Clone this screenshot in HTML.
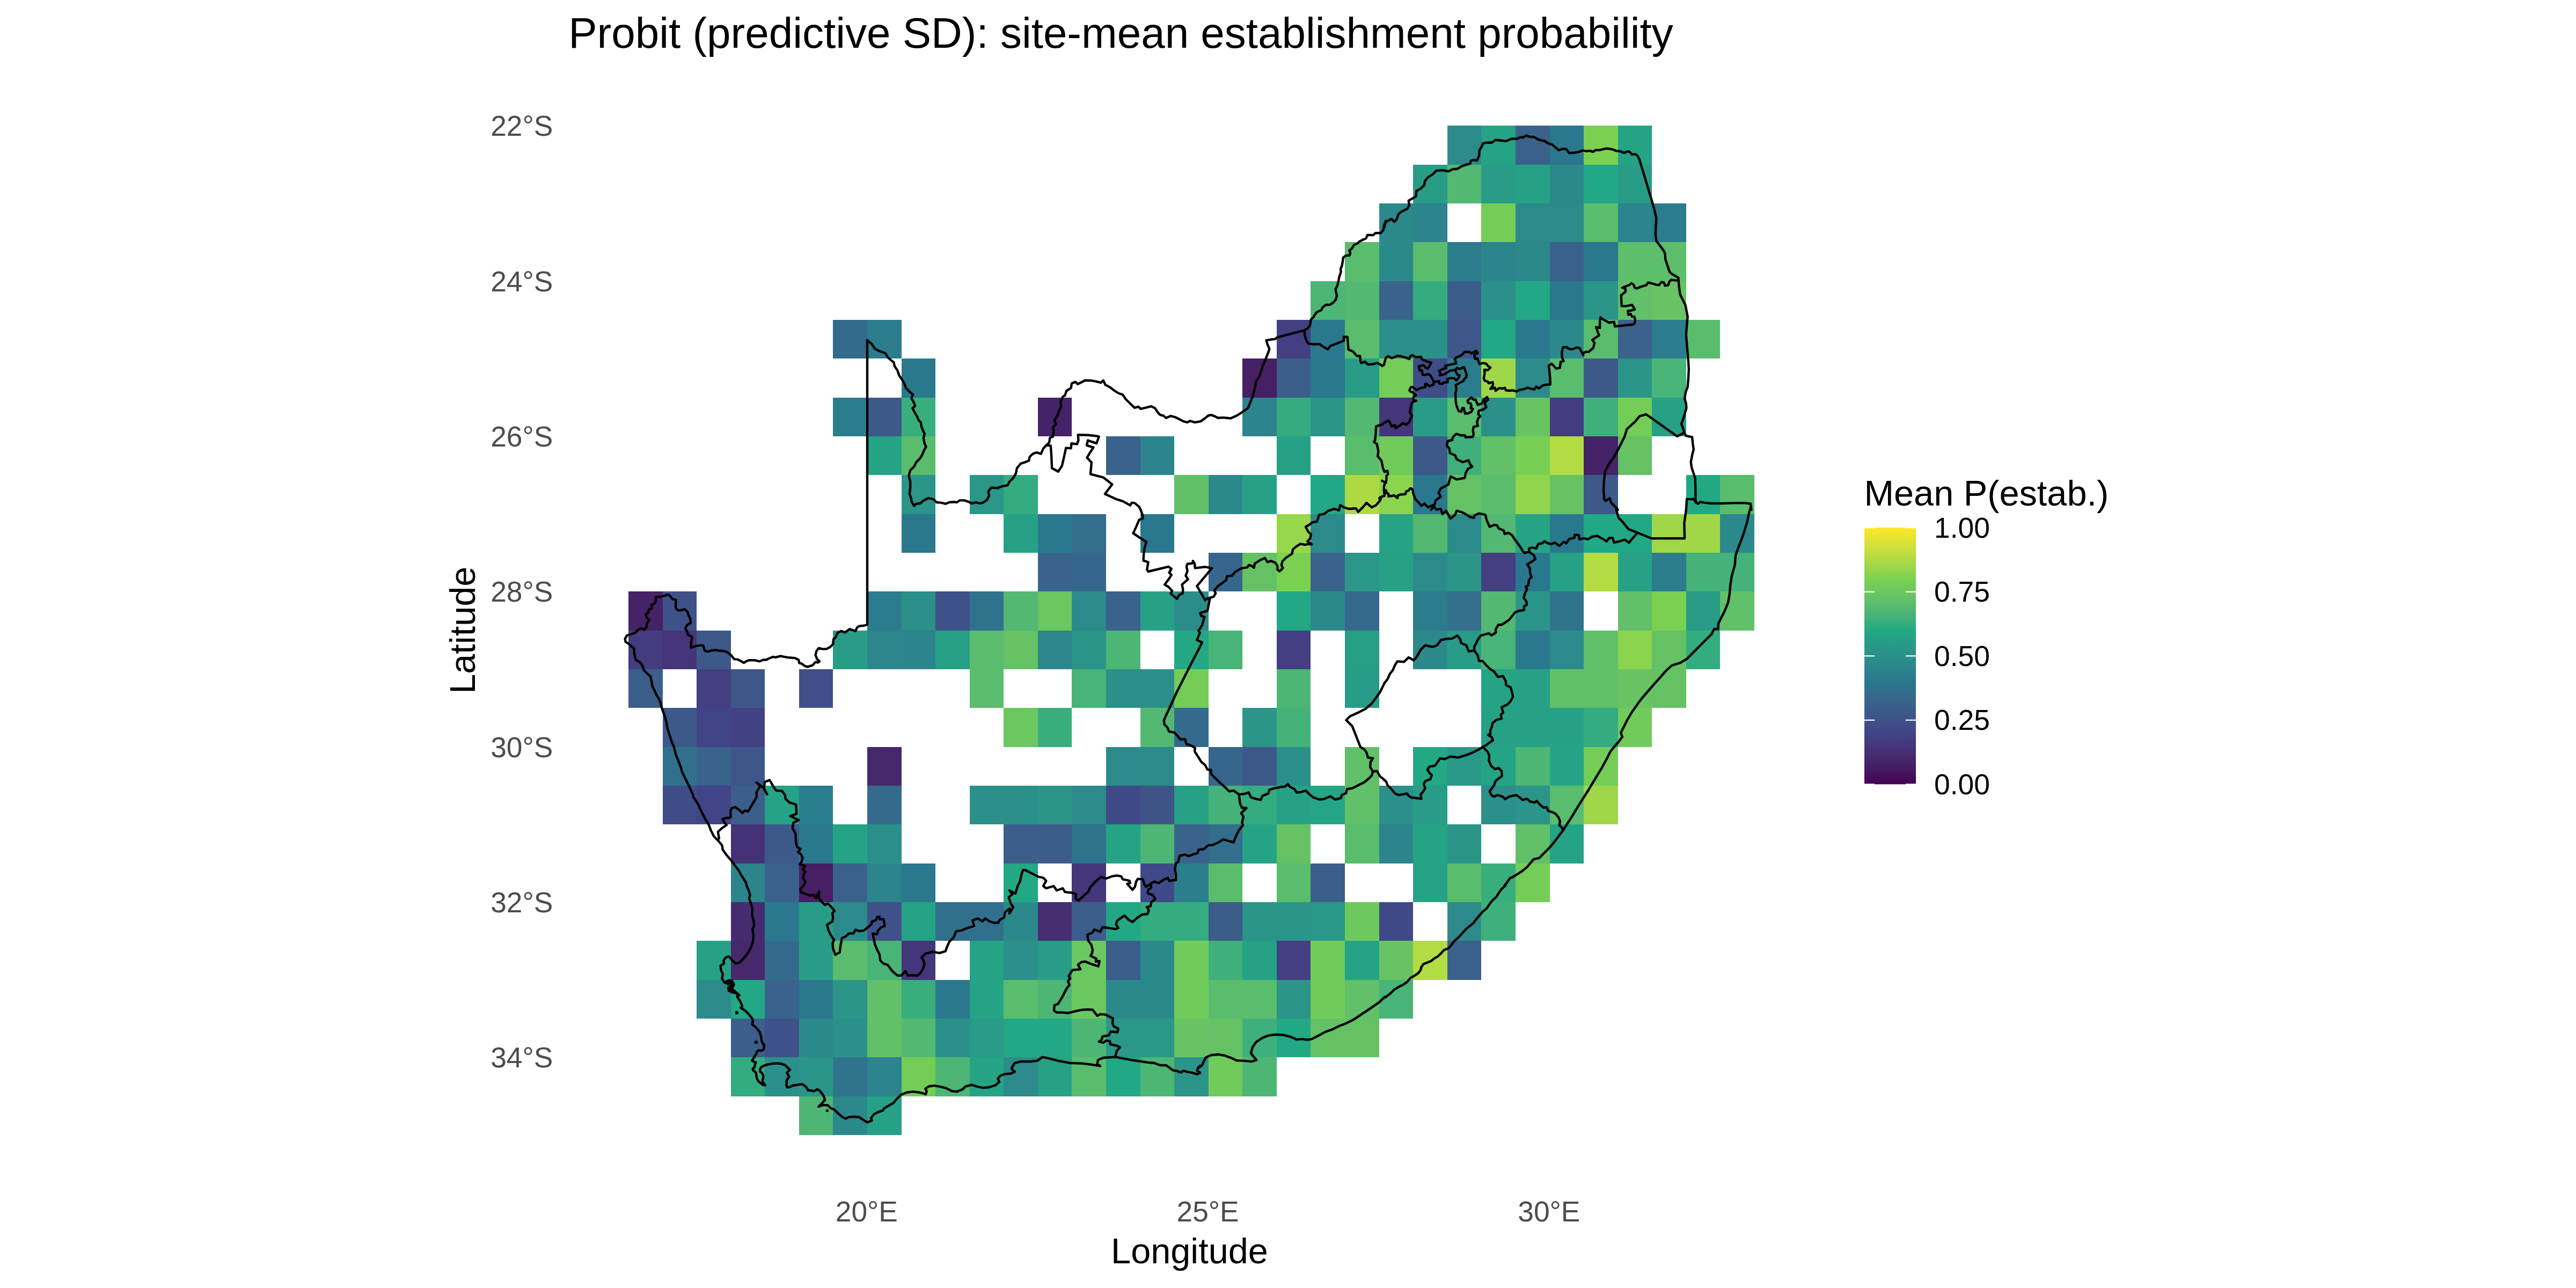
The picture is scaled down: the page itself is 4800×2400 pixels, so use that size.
<!DOCTYPE html>
<html lang="en"><head><meta charset="utf-8"><title>Probit (predictive SD): site-mean establishment probability</title>
<style>html,body{margin:0;padding:0;background:#fff}svg{display:block}text{font-family:"Liberation Sans",Arial,Helvetica,sans-serif}</style></head><body>
<svg width="4800" height="2400" viewBox="0 0 4800 2400">
<rect width="4800" height="2400" fill="#fff"/>
<g shape-rendering="crispEdges">
<rect x="2697" y="234" width="63" height="73" fill="#2c8b8a"/>
<rect x="2760" y="234" width="64" height="73" fill="#25a385"/>
<rect x="2824" y="234" width="64" height="73" fill="#3a618b"/>
<rect x="2888" y="234" width="63" height="73" fill="#2a788e"/>
<rect x="2951" y="234" width="64" height="73" fill="#7ad151"/>
<rect x="3015" y="234" width="63" height="73" fill="#25a385"/>
<rect x="2633" y="307" width="64" height="72" fill="#289c87"/>
<rect x="2697" y="307" width="63" height="72" fill="#52b872"/>
<rect x="2760" y="307" width="64" height="72" fill="#289c87"/>
<rect x="2824" y="307" width="64" height="72" fill="#26a186"/>
<rect x="2888" y="307" width="63" height="72" fill="#2c898b"/>
<rect x="2951" y="307" width="64" height="72" fill="#22a884"/>
<rect x="3015" y="307" width="63" height="72" fill="#289c87"/>
<rect x="2570" y="379" width="63" height="72" fill="#2c898b"/>
<rect x="2633" y="379" width="64" height="72" fill="#2c848c"/>
<rect x="2760" y="379" width="64" height="72" fill="#74cd57"/>
<rect x="2824" y="379" width="64" height="72" fill="#2c8b8a"/>
<rect x="2888" y="379" width="63" height="72" fill="#2c8b8a"/>
<rect x="2951" y="379" width="64" height="72" fill="#5abc6d"/>
<rect x="3015" y="379" width="63" height="72" fill="#2c848c"/>
<rect x="3078" y="379" width="64" height="72" fill="#2b7d8d"/>
<rect x="2506" y="451" width="64" height="73" fill="#5abc6d"/>
<rect x="2570" y="451" width="63" height="73" fill="#2c898b"/>
<rect x="2633" y="451" width="64" height="73" fill="#5abc6d"/>
<rect x="2697" y="451" width="63" height="73" fill="#2b7d8d"/>
<rect x="2760" y="451" width="64" height="73" fill="#2c848c"/>
<rect x="2824" y="451" width="64" height="73" fill="#2c898b"/>
<rect x="2888" y="451" width="63" height="73" fill="#3a618b"/>
<rect x="2951" y="451" width="64" height="73" fill="#2a788e"/>
<rect x="3015" y="451" width="63" height="73" fill="#5dbe6b"/>
<rect x="3078" y="451" width="64" height="73" fill="#5dbe6b"/>
<rect x="2442" y="524" width="64" height="72" fill="#4db674"/>
<rect x="2506" y="524" width="64" height="72" fill="#52b872"/>
<rect x="2570" y="524" width="63" height="72" fill="#39638b"/>
<rect x="2633" y="524" width="64" height="72" fill="#33ac80"/>
<rect x="2697" y="524" width="63" height="72" fill="#3c5c8a"/>
<rect x="2760" y="524" width="64" height="72" fill="#2b9089"/>
<rect x="2824" y="524" width="64" height="72" fill="#22a884"/>
<rect x="2888" y="524" width="63" height="72" fill="#2a788e"/>
<rect x="2951" y="524" width="64" height="72" fill="#2a9588"/>
<rect x="3015" y="524" width="63" height="72" fill="#61c068"/>
<rect x="3078" y="524" width="64" height="72" fill="#68c463"/>
<rect x="1552" y="596" width="64" height="72" fill="#346b8c"/>
<rect x="1616" y="596" width="64" height="72" fill="#2b7d8d"/>
<rect x="2379" y="596" width="63" height="72" fill="#433f82"/>
<rect x="2442" y="596" width="64" height="72" fill="#2a788e"/>
<rect x="2506" y="596" width="64" height="72" fill="#5abc6d"/>
<rect x="2570" y="596" width="63" height="72" fill="#2b9089"/>
<rect x="2633" y="596" width="64" height="72" fill="#2b9089"/>
<rect x="2697" y="596" width="63" height="72" fill="#3d578a"/>
<rect x="2760" y="596" width="64" height="72" fill="#22a884"/>
<rect x="2824" y="596" width="64" height="72" fill="#2a788e"/>
<rect x="2888" y="596" width="63" height="72" fill="#2c898b"/>
<rect x="2951" y="596" width="64" height="72" fill="#5abc6d"/>
<rect x="3015" y="596" width="63" height="72" fill="#39638b"/>
<rect x="3078" y="596" width="64" height="72" fill="#2b7d8d"/>
<rect x="3142" y="596" width="63" height="72" fill="#5abc6d"/>
<rect x="1680" y="668" width="63" height="73" fill="#2a788e"/>
<rect x="2315" y="668" width="64" height="73" fill="#461f65"/>
<rect x="2379" y="668" width="63" height="73" fill="#3b5e8b"/>
<rect x="2442" y="668" width="64" height="73" fill="#2a788e"/>
<rect x="2506" y="668" width="64" height="73" fill="#289c87"/>
<rect x="2570" y="668" width="63" height="73" fill="#74cd57"/>
<rect x="2633" y="668" width="64" height="73" fill="#404c88"/>
<rect x="2697" y="668" width="63" height="73" fill="#2b7d8d"/>
<rect x="2760" y="668" width="64" height="73" fill="#9fd749"/>
<rect x="2824" y="668" width="64" height="73" fill="#2c8b8a"/>
<rect x="2888" y="668" width="63" height="73" fill="#5abc6d"/>
<rect x="2951" y="668" width="64" height="73" fill="#3d598a"/>
<rect x="3015" y="668" width="63" height="73" fill="#2a9588"/>
<rect x="3078" y="668" width="64" height="73" fill="#49b477"/>
<rect x="1552" y="741" width="64" height="72" fill="#2b7d8d"/>
<rect x="1616" y="741" width="64" height="72" fill="#3d598a"/>
<rect x="1680" y="741" width="63" height="72" fill="#39ae7d"/>
<rect x="1934" y="741" width="63" height="72" fill="#462268"/>
<rect x="2315" y="741" width="64" height="72" fill="#2c848c"/>
<rect x="2379" y="741" width="63" height="72" fill="#33ac80"/>
<rect x="2442" y="741" width="64" height="72" fill="#2a9588"/>
<rect x="2506" y="741" width="64" height="72" fill="#52b872"/>
<rect x="2570" y="741" width="63" height="72" fill="#44367a"/>
<rect x="2633" y="741" width="64" height="72" fill="#289c87"/>
<rect x="2697" y="741" width="63" height="72" fill="#5abc6d"/>
<rect x="2760" y="741" width="64" height="72" fill="#2b9089"/>
<rect x="2824" y="741" width="64" height="72" fill="#68c463"/>
<rect x="2888" y="741" width="63" height="72" fill="#433c7f"/>
<rect x="2951" y="741" width="64" height="72" fill="#3fb07b"/>
<rect x="3015" y="741" width="63" height="72" fill="#74cd57"/>
<rect x="3078" y="741" width="64" height="72" fill="#26a186"/>
<rect x="1616" y="813" width="64" height="72" fill="#25a385"/>
<rect x="1680" y="813" width="63" height="72" fill="#5abc6d"/>
<rect x="2061" y="813" width="64" height="72" fill="#39638b"/>
<rect x="2125" y="813" width="63" height="72" fill="#2c848c"/>
<rect x="2379" y="813" width="63" height="72" fill="#26a186"/>
<rect x="2506" y="813" width="64" height="72" fill="#5abc6d"/>
<rect x="2570" y="813" width="63" height="72" fill="#71cb5a"/>
<rect x="2633" y="813" width="64" height="72" fill="#3d598a"/>
<rect x="2697" y="813" width="63" height="72" fill="#3fb07b"/>
<rect x="2760" y="813" width="64" height="72" fill="#61c068"/>
<rect x="2824" y="813" width="64" height="72" fill="#77cf54"/>
<rect x="2888" y="813" width="63" height="72" fill="#b3db44"/>
<rect x="2951" y="813" width="64" height="72" fill="#462268"/>
<rect x="3015" y="813" width="63" height="72" fill="#64c265"/>
<rect x="1680" y="885" width="63" height="73" fill="#2a9588"/>
<rect x="1807" y="885" width="63" height="73" fill="#2a9788"/>
<rect x="1870" y="885" width="64" height="73" fill="#33ac80"/>
<rect x="2188" y="885" width="64" height="73" fill="#61c068"/>
<rect x="2252" y="885" width="63" height="73" fill="#2c898b"/>
<rect x="2315" y="885" width="64" height="73" fill="#26a186"/>
<rect x="2442" y="885" width="64" height="73" fill="#22a884"/>
<rect x="2506" y="885" width="64" height="73" fill="#add945"/>
<rect x="2570" y="885" width="63" height="73" fill="#8ad44e"/>
<rect x="2633" y="885" width="64" height="73" fill="#2a788e"/>
<rect x="2697" y="885" width="63" height="73" fill="#64c265"/>
<rect x="2760" y="885" width="64" height="73" fill="#5abc6d"/>
<rect x="2824" y="885" width="64" height="73" fill="#91d54c"/>
<rect x="2888" y="885" width="63" height="73" fill="#64c265"/>
<rect x="2951" y="885" width="64" height="73" fill="#3d598a"/>
<rect x="3142" y="885" width="63" height="73" fill="#22a884"/>
<rect x="3205" y="885" width="64" height="73" fill="#5abc6d"/>
<rect x="1680" y="958" width="63" height="72" fill="#2a788e"/>
<rect x="1870" y="958" width="64" height="72" fill="#26a186"/>
<rect x="1934" y="958" width="63" height="72" fill="#2a788e"/>
<rect x="1997" y="958" width="64" height="72" fill="#336e8d"/>
<rect x="2125" y="958" width="63" height="72" fill="#2a788e"/>
<rect x="2379" y="958" width="63" height="72" fill="#98d64b"/>
<rect x="2442" y="958" width="64" height="72" fill="#2c8b8a"/>
<rect x="2570" y="958" width="63" height="72" fill="#25a385"/>
<rect x="2633" y="958" width="64" height="72" fill="#52b872"/>
<rect x="2697" y="958" width="63" height="72" fill="#2c8b8a"/>
<rect x="2760" y="958" width="64" height="72" fill="#52b872"/>
<rect x="2824" y="958" width="64" height="72" fill="#25a385"/>
<rect x="2888" y="958" width="63" height="72" fill="#2a788e"/>
<rect x="2951" y="958" width="64" height="72" fill="#22a884"/>
<rect x="3015" y="958" width="63" height="72" fill="#22a884"/>
<rect x="3078" y="958" width="64" height="72" fill="#9fd749"/>
<rect x="3142" y="958" width="63" height="72" fill="#9fd749"/>
<rect x="3205" y="958" width="64" height="72" fill="#2c898b"/>
<rect x="1934" y="1030" width="63" height="72" fill="#39638b"/>
<rect x="1997" y="1030" width="64" height="72" fill="#37668c"/>
<rect x="2252" y="1030" width="63" height="72" fill="#37668c"/>
<rect x="2315" y="1030" width="64" height="72" fill="#64c265"/>
<rect x="2379" y="1030" width="63" height="72" fill="#7ad151"/>
<rect x="2442" y="1030" width="64" height="72" fill="#39638b"/>
<rect x="2506" y="1030" width="64" height="72" fill="#2a9788"/>
<rect x="2570" y="1030" width="63" height="72" fill="#26a186"/>
<rect x="2633" y="1030" width="64" height="72" fill="#2c8b8a"/>
<rect x="2697" y="1030" width="63" height="72" fill="#2a9588"/>
<rect x="2760" y="1030" width="64" height="72" fill="#433f82"/>
<rect x="2824" y="1030" width="64" height="72" fill="#2a788e"/>
<rect x="2888" y="1030" width="63" height="72" fill="#26a186"/>
<rect x="2951" y="1030" width="64" height="72" fill="#b3db44"/>
<rect x="3015" y="1030" width="63" height="72" fill="#26a186"/>
<rect x="3078" y="1030" width="64" height="72" fill="#2b7d8d"/>
<rect x="3142" y="1030" width="63" height="72" fill="#44b279"/>
<rect x="3205" y="1030" width="64" height="72" fill="#44b279"/>
<rect x="1171" y="1102" width="64" height="73" fill="#462268"/>
<rect x="1235" y="1102" width="63" height="73" fill="#3f5189"/>
<rect x="1616" y="1102" width="64" height="73" fill="#2b7d8d"/>
<rect x="1680" y="1102" width="63" height="73" fill="#2b9089"/>
<rect x="1743" y="1102" width="64" height="73" fill="#3f5189"/>
<rect x="1807" y="1102" width="63" height="73" fill="#2f738d"/>
<rect x="1870" y="1102" width="64" height="73" fill="#52b872"/>
<rect x="1934" y="1102" width="63" height="73" fill="#6bc760"/>
<rect x="1997" y="1102" width="64" height="73" fill="#2c8b8a"/>
<rect x="2061" y="1102" width="64" height="73" fill="#39638b"/>
<rect x="2125" y="1102" width="63" height="73" fill="#26a186"/>
<rect x="2188" y="1102" width="64" height="73" fill="#2b8d8a"/>
<rect x="2379" y="1102" width="63" height="73" fill="#22a884"/>
<rect x="2442" y="1102" width="64" height="73" fill="#2c898b"/>
<rect x="2506" y="1102" width="64" height="73" fill="#346b8c"/>
<rect x="2633" y="1102" width="64" height="73" fill="#2b7d8d"/>
<rect x="2697" y="1102" width="63" height="73" fill="#336e8d"/>
<rect x="2760" y="1102" width="64" height="73" fill="#52b872"/>
<rect x="2824" y="1102" width="64" height="73" fill="#2a9588"/>
<rect x="2888" y="1102" width="63" height="73" fill="#2f738d"/>
<rect x="3015" y="1102" width="63" height="73" fill="#61c068"/>
<rect x="3078" y="1102" width="64" height="73" fill="#7ad151"/>
<rect x="3142" y="1102" width="63" height="73" fill="#289c87"/>
<rect x="3205" y="1102" width="64" height="73" fill="#61c068"/>
<rect x="1171" y="1175" width="64" height="72" fill="#433c7f"/>
<rect x="1235" y="1175" width="63" height="72" fill="#453477"/>
<rect x="1298" y="1175" width="64" height="72" fill="#3d598a"/>
<rect x="1552" y="1175" width="64" height="72" fill="#289c87"/>
<rect x="1616" y="1175" width="64" height="72" fill="#2c868b"/>
<rect x="1680" y="1175" width="63" height="72" fill="#2c848c"/>
<rect x="1743" y="1175" width="64" height="72" fill="#26a186"/>
<rect x="1807" y="1175" width="63" height="72" fill="#5abc6d"/>
<rect x="1870" y="1175" width="64" height="72" fill="#64c265"/>
<rect x="1934" y="1175" width="63" height="72" fill="#2c868b"/>
<rect x="1997" y="1175" width="64" height="72" fill="#2a9588"/>
<rect x="2061" y="1175" width="64" height="72" fill="#4db674"/>
<rect x="2188" y="1175" width="64" height="72" fill="#22a884"/>
<rect x="2252" y="1175" width="63" height="72" fill="#49b477"/>
<rect x="2379" y="1175" width="63" height="72" fill="#433f82"/>
<rect x="2506" y="1175" width="64" height="72" fill="#279e86"/>
<rect x="2633" y="1175" width="64" height="72" fill="#2c898b"/>
<rect x="2697" y="1175" width="63" height="72" fill="#289c87"/>
<rect x="2760" y="1175" width="64" height="72" fill="#49b477"/>
<rect x="2824" y="1175" width="64" height="72" fill="#2a788e"/>
<rect x="2888" y="1175" width="63" height="72" fill="#2c8b8a"/>
<rect x="2951" y="1175" width="64" height="72" fill="#61c068"/>
<rect x="3015" y="1175" width="63" height="72" fill="#8ad44e"/>
<rect x="3078" y="1175" width="64" height="72" fill="#64c265"/>
<rect x="3142" y="1175" width="63" height="72" fill="#33ac80"/>
<rect x="1171" y="1247" width="64" height="72" fill="#3b5e8b"/>
<rect x="1298" y="1247" width="64" height="72" fill="#433f82"/>
<rect x="1362" y="1247" width="63" height="72" fill="#3d578a"/>
<rect x="1489" y="1247" width="63" height="72" fill="#3f4f89"/>
<rect x="1807" y="1247" width="63" height="72" fill="#5abc6d"/>
<rect x="1997" y="1247" width="64" height="72" fill="#49b477"/>
<rect x="2061" y="1247" width="64" height="72" fill="#2b9089"/>
<rect x="2125" y="1247" width="63" height="72" fill="#2b9089"/>
<rect x="2188" y="1247" width="64" height="72" fill="#74cd57"/>
<rect x="2379" y="1247" width="63" height="72" fill="#4db674"/>
<rect x="2506" y="1247" width="64" height="72" fill="#289c87"/>
<rect x="2760" y="1247" width="64" height="72" fill="#25a385"/>
<rect x="2824" y="1247" width="64" height="72" fill="#26a186"/>
<rect x="2888" y="1247" width="63" height="72" fill="#61c068"/>
<rect x="2951" y="1247" width="64" height="72" fill="#61c068"/>
<rect x="3015" y="1247" width="63" height="72" fill="#68c463"/>
<rect x="3078" y="1247" width="64" height="72" fill="#64c265"/>
<rect x="1235" y="1319" width="63" height="73" fill="#3d598a"/>
<rect x="1298" y="1319" width="64" height="73" fill="#414487"/>
<rect x="1362" y="1319" width="63" height="73" fill="#424184"/>
<rect x="1870" y="1319" width="64" height="73" fill="#6bc760"/>
<rect x="1934" y="1319" width="63" height="73" fill="#39ae7d"/>
<rect x="2125" y="1319" width="63" height="73" fill="#52b872"/>
<rect x="2188" y="1319" width="64" height="73" fill="#346b8c"/>
<rect x="2315" y="1319" width="64" height="73" fill="#2a9588"/>
<rect x="2379" y="1319" width="63" height="73" fill="#44b279"/>
<rect x="2760" y="1319" width="64" height="73" fill="#26a186"/>
<rect x="2824" y="1319" width="64" height="73" fill="#26a186"/>
<rect x="2888" y="1319" width="63" height="73" fill="#26a186"/>
<rect x="2951" y="1319" width="64" height="73" fill="#33ac80"/>
<rect x="3015" y="1319" width="63" height="73" fill="#71cb5a"/>
<rect x="1235" y="1392" width="63" height="72" fill="#31708d"/>
<rect x="1298" y="1392" width="64" height="72" fill="#39638b"/>
<rect x="1362" y="1392" width="63" height="72" fill="#3d578a"/>
<rect x="1616" y="1392" width="64" height="72" fill="#46286d"/>
<rect x="2061" y="1392" width="64" height="72" fill="#2c8b8a"/>
<rect x="2125" y="1392" width="63" height="72" fill="#2c8b8a"/>
<rect x="2252" y="1392" width="63" height="72" fill="#37668c"/>
<rect x="2315" y="1392" width="64" height="72" fill="#3d598a"/>
<rect x="2379" y="1392" width="63" height="72" fill="#2b9089"/>
<rect x="2506" y="1392" width="64" height="72" fill="#61c068"/>
<rect x="2633" y="1392" width="64" height="72" fill="#22a884"/>
<rect x="2697" y="1392" width="63" height="72" fill="#2a9788"/>
<rect x="2760" y="1392" width="64" height="72" fill="#25a385"/>
<rect x="2824" y="1392" width="64" height="72" fill="#4db674"/>
<rect x="2888" y="1392" width="63" height="72" fill="#25a385"/>
<rect x="2951" y="1392" width="64" height="72" fill="#74cd57"/>
<rect x="1235" y="1464" width="63" height="72" fill="#404c88"/>
<rect x="1298" y="1464" width="64" height="72" fill="#414487"/>
<rect x="1362" y="1464" width="63" height="72" fill="#3b5e8b"/>
<rect x="1425" y="1464" width="64" height="72" fill="#25a385"/>
<rect x="1489" y="1464" width="63" height="72" fill="#2b7d8d"/>
<rect x="1616" y="1464" width="64" height="72" fill="#346b8c"/>
<rect x="1807" y="1464" width="63" height="72" fill="#2b9089"/>
<rect x="1870" y="1464" width="64" height="72" fill="#2b9089"/>
<rect x="1934" y="1464" width="63" height="72" fill="#2a9588"/>
<rect x="1997" y="1464" width="64" height="72" fill="#2c8b8a"/>
<rect x="2061" y="1464" width="64" height="72" fill="#404988"/>
<rect x="2125" y="1464" width="63" height="72" fill="#3e5489"/>
<rect x="2188" y="1464" width="64" height="72" fill="#26a186"/>
<rect x="2252" y="1464" width="63" height="72" fill="#44b279"/>
<rect x="2315" y="1464" width="64" height="72" fill="#33ac80"/>
<rect x="2379" y="1464" width="63" height="72" fill="#26a186"/>
<rect x="2442" y="1464" width="64" height="72" fill="#24a685"/>
<rect x="2506" y="1464" width="64" height="72" fill="#61c068"/>
<rect x="2570" y="1464" width="63" height="72" fill="#2b9089"/>
<rect x="2633" y="1464" width="64" height="72" fill="#289c87"/>
<rect x="2760" y="1464" width="64" height="72" fill="#2b9089"/>
<rect x="2824" y="1464" width="64" height="72" fill="#2a9588"/>
<rect x="2888" y="1464" width="63" height="72" fill="#5abc6d"/>
<rect x="2951" y="1464" width="64" height="72" fill="#9fd749"/>
<rect x="1362" y="1536" width="63" height="73" fill="#453175"/>
<rect x="1425" y="1536" width="64" height="73" fill="#3d598a"/>
<rect x="1489" y="1536" width="63" height="73" fill="#2a788e"/>
<rect x="1552" y="1536" width="64" height="73" fill="#25a385"/>
<rect x="1616" y="1536" width="64" height="73" fill="#2b9089"/>
<rect x="1870" y="1536" width="64" height="73" fill="#3b5e8b"/>
<rect x="1934" y="1536" width="63" height="73" fill="#3c5c8a"/>
<rect x="1997" y="1536" width="64" height="73" fill="#2f738d"/>
<rect x="2061" y="1536" width="64" height="73" fill="#25a385"/>
<rect x="2125" y="1536" width="63" height="73" fill="#4db674"/>
<rect x="2188" y="1536" width="64" height="73" fill="#39638b"/>
<rect x="2252" y="1536" width="63" height="73" fill="#336e8d"/>
<rect x="2315" y="1536" width="64" height="73" fill="#25a385"/>
<rect x="2379" y="1536" width="63" height="73" fill="#64c265"/>
<rect x="2506" y="1536" width="64" height="73" fill="#5abc6d"/>
<rect x="2570" y="1536" width="63" height="73" fill="#2c848c"/>
<rect x="2633" y="1536" width="64" height="73" fill="#25a385"/>
<rect x="2697" y="1536" width="63" height="73" fill="#2a9588"/>
<rect x="2824" y="1536" width="64" height="73" fill="#61c068"/>
<rect x="2888" y="1536" width="63" height="73" fill="#25a385"/>
<rect x="1362" y="1609" width="63" height="72" fill="#2c848c"/>
<rect x="1425" y="1609" width="64" height="72" fill="#3a618b"/>
<rect x="1489" y="1609" width="63" height="72" fill="#461f65"/>
<rect x="1552" y="1609" width="64" height="72" fill="#3a618b"/>
<rect x="1616" y="1609" width="64" height="72" fill="#2c848c"/>
<rect x="1680" y="1609" width="63" height="72" fill="#2a788e"/>
<rect x="1870" y="1609" width="64" height="72" fill="#22a884"/>
<rect x="1997" y="1609" width="64" height="72" fill="#44367a"/>
<rect x="2125" y="1609" width="63" height="72" fill="#404988"/>
<rect x="2188" y="1609" width="64" height="72" fill="#2b7f8d"/>
<rect x="2252" y="1609" width="63" height="72" fill="#5abc6d"/>
<rect x="2379" y="1609" width="63" height="72" fill="#5abc6d"/>
<rect x="2442" y="1609" width="64" height="72" fill="#3b5e8b"/>
<rect x="2633" y="1609" width="64" height="72" fill="#25a385"/>
<rect x="2697" y="1609" width="63" height="72" fill="#5abc6d"/>
<rect x="2760" y="1609" width="64" height="72" fill="#39ae7d"/>
<rect x="2824" y="1609" width="64" height="72" fill="#74cd57"/>
<rect x="1362" y="1681" width="63" height="72" fill="#452b70"/>
<rect x="1425" y="1681" width="64" height="72" fill="#2a788e"/>
<rect x="1489" y="1681" width="63" height="72" fill="#289c87"/>
<rect x="1552" y="1681" width="64" height="72" fill="#2c8b8a"/>
<rect x="1616" y="1681" width="64" height="72" fill="#3f5189"/>
<rect x="1680" y="1681" width="63" height="72" fill="#25a385"/>
<rect x="1743" y="1681" width="64" height="72" fill="#31708d"/>
<rect x="1807" y="1681" width="63" height="72" fill="#31708d"/>
<rect x="1870" y="1681" width="64" height="72" fill="#2c898b"/>
<rect x="1934" y="1681" width="63" height="72" fill="#452e72"/>
<rect x="1997" y="1681" width="64" height="72" fill="#3b5e8b"/>
<rect x="2061" y="1681" width="64" height="72" fill="#22a884"/>
<rect x="2125" y="1681" width="63" height="72" fill="#33ac80"/>
<rect x="2188" y="1681" width="64" height="72" fill="#33ac80"/>
<rect x="2252" y="1681" width="63" height="72" fill="#3c5c8a"/>
<rect x="2315" y="1681" width="64" height="72" fill="#2a9588"/>
<rect x="2379" y="1681" width="63" height="72" fill="#2a9588"/>
<rect x="2442" y="1681" width="64" height="72" fill="#2a9788"/>
<rect x="2506" y="1681" width="64" height="72" fill="#6ec95d"/>
<rect x="2570" y="1681" width="63" height="72" fill="#404988"/>
<rect x="2697" y="1681" width="63" height="72" fill="#2c8b8a"/>
<rect x="2760" y="1681" width="64" height="72" fill="#3fb07b"/>
<rect x="1298" y="1753" width="64" height="73" fill="#26a186"/>
<rect x="1362" y="1753" width="63" height="73" fill="#46286d"/>
<rect x="1425" y="1753" width="64" height="73" fill="#346b8c"/>
<rect x="1489" y="1753" width="63" height="73" fill="#289c87"/>
<rect x="1552" y="1753" width="64" height="73" fill="#5abc6d"/>
<rect x="1616" y="1753" width="64" height="73" fill="#49b477"/>
<rect x="1680" y="1753" width="63" height="73" fill="#44367a"/>
<rect x="1807" y="1753" width="63" height="73" fill="#25a385"/>
<rect x="1870" y="1753" width="64" height="73" fill="#2b9089"/>
<rect x="1934" y="1753" width="63" height="73" fill="#289c87"/>
<rect x="1997" y="1753" width="64" height="73" fill="#6bc760"/>
<rect x="2061" y="1753" width="64" height="73" fill="#3b5e8b"/>
<rect x="2125" y="1753" width="63" height="73" fill="#2c898b"/>
<rect x="2188" y="1753" width="64" height="73" fill="#71cb5a"/>
<rect x="2252" y="1753" width="63" height="73" fill="#3fb07b"/>
<rect x="2315" y="1753" width="64" height="73" fill="#26a186"/>
<rect x="2379" y="1753" width="63" height="73" fill="#433f82"/>
<rect x="2442" y="1753" width="64" height="73" fill="#71cb5a"/>
<rect x="2506" y="1753" width="64" height="73" fill="#25a385"/>
<rect x="2570" y="1753" width="63" height="73" fill="#68c463"/>
<rect x="2633" y="1753" width="64" height="73" fill="#b3db44"/>
<rect x="2697" y="1753" width="63" height="73" fill="#3a618b"/>
<rect x="1298" y="1826" width="64" height="72" fill="#2c8b8a"/>
<rect x="1362" y="1826" width="63" height="72" fill="#22a884"/>
<rect x="1425" y="1826" width="64" height="72" fill="#39638b"/>
<rect x="1489" y="1826" width="63" height="72" fill="#2a788e"/>
<rect x="1552" y="1826" width="64" height="72" fill="#2a9588"/>
<rect x="1616" y="1826" width="64" height="72" fill="#61c068"/>
<rect x="1680" y="1826" width="63" height="72" fill="#39ae7d"/>
<rect x="1743" y="1826" width="64" height="72" fill="#2a788e"/>
<rect x="1807" y="1826" width="63" height="72" fill="#25a385"/>
<rect x="1870" y="1826" width="64" height="72" fill="#5abc6d"/>
<rect x="1934" y="1826" width="63" height="72" fill="#4db674"/>
<rect x="1997" y="1826" width="64" height="72" fill="#6bc760"/>
<rect x="2061" y="1826" width="64" height="72" fill="#2c898b"/>
<rect x="2125" y="1826" width="63" height="72" fill="#2c898b"/>
<rect x="2188" y="1826" width="64" height="72" fill="#71cb5a"/>
<rect x="2252" y="1826" width="63" height="72" fill="#5abc6d"/>
<rect x="2315" y="1826" width="64" height="72" fill="#5abc6d"/>
<rect x="2379" y="1826" width="63" height="72" fill="#2a9588"/>
<rect x="2442" y="1826" width="64" height="72" fill="#71cb5a"/>
<rect x="2506" y="1826" width="64" height="72" fill="#61c068"/>
<rect x="2570" y="1826" width="63" height="72" fill="#49b477"/>
<rect x="1362" y="1898" width="63" height="72" fill="#3b5e8b"/>
<rect x="1425" y="1898" width="64" height="72" fill="#3f5189"/>
<rect x="1489" y="1898" width="63" height="72" fill="#2c898b"/>
<rect x="1552" y="1898" width="64" height="72" fill="#2b9089"/>
<rect x="1616" y="1898" width="64" height="72" fill="#61c068"/>
<rect x="1680" y="1898" width="63" height="72" fill="#52b872"/>
<rect x="1743" y="1898" width="64" height="72" fill="#2b9089"/>
<rect x="1807" y="1898" width="63" height="72" fill="#289c87"/>
<rect x="1870" y="1898" width="64" height="72" fill="#22a884"/>
<rect x="1934" y="1898" width="63" height="72" fill="#22a884"/>
<rect x="1997" y="1898" width="64" height="72" fill="#4db674"/>
<rect x="2061" y="1898" width="64" height="72" fill="#2a9788"/>
<rect x="2125" y="1898" width="63" height="72" fill="#2a9788"/>
<rect x="2188" y="1898" width="64" height="72" fill="#68c463"/>
<rect x="2252" y="1898" width="63" height="72" fill="#64c265"/>
<rect x="2315" y="1898" width="64" height="72" fill="#3fb07b"/>
<rect x="2379" y="1898" width="63" height="72" fill="#22a884"/>
<rect x="2442" y="1898" width="64" height="72" fill="#64c265"/>
<rect x="2506" y="1898" width="64" height="72" fill="#64c265"/>
<rect x="1362" y="1970" width="63" height="73" fill="#33ac80"/>
<rect x="1425" y="1970" width="64" height="73" fill="#2b9089"/>
<rect x="1489" y="1970" width="63" height="73" fill="#2a9588"/>
<rect x="1552" y="1970" width="64" height="73" fill="#2f738d"/>
<rect x="1616" y="1970" width="64" height="73" fill="#2c848c"/>
<rect x="1680" y="1970" width="63" height="73" fill="#74cd57"/>
<rect x="1743" y="1970" width="64" height="73" fill="#4db674"/>
<rect x="1807" y="1970" width="63" height="73" fill="#25a385"/>
<rect x="1870" y="1970" width="64" height="73" fill="#2c8b8a"/>
<rect x="1934" y="1970" width="63" height="73" fill="#26a186"/>
<rect x="1997" y="1970" width="64" height="73" fill="#5abc6d"/>
<rect x="2061" y="1970" width="64" height="73" fill="#22a884"/>
<rect x="2125" y="1970" width="63" height="73" fill="#4db674"/>
<rect x="2188" y="1970" width="64" height="73" fill="#2a9588"/>
<rect x="2252" y="1970" width="63" height="73" fill="#71cb5a"/>
<rect x="2315" y="1970" width="64" height="73" fill="#4db674"/>
<rect x="1489" y="2043" width="63" height="72" fill="#4db674"/>
<rect x="1552" y="2043" width="64" height="72" fill="#2c898b"/>
<rect x="1616" y="2043" width="64" height="72" fill="#26a186"/>
</g>
<g fill="none" stroke="#000" stroke-width="4.4" stroke-linejoin="round" stroke-linecap="round">
<path d="M2580 422.9 L2581.4 414.5 L2587 411.1 L2592.6 408 L2598.2 413.1 L2602.4 408.9 L2605.7 399.1 L2610.7 394.9 L2621.9 389.3 L2626.1 382.3 L2624.7 373.9 L2631.7 369.8 L2638.7 365.6 L2639.3 355.8 L2647.1 351.6 L2654.1 344.6 L2654.9 337.6 L2661.1 330.1 L2669.4 325 L2676.4 318 L2687.6 317.2 L2698.8 319.4 L2707.2 315.2 L2715.6 314.7 L2723.9 309.7 L2732.3 306.9 L2739.3 304.9 L2740.7 299.9 L2746.3 297.9 L2751.9 299.3 L2756.1 290.1 L2756.6 280.3 L2761.1 273.3 L2763.1 267.2 L2772.9 265.5 L2779.8 265.8 L2786.8 260.7 L2792.4 261.3 L2799.4 262.1 L2806.4 263 L2816.2 258.8 L2826 258.8 L2833 255.7 L2838.5 256 L2843.6 252.4 L2849.7 254.6 L2858.1 255.2 L2865.1 259.3 L2872.1 261.6 L2877.7 262.7 L2884.7 267.2 L2891.6 269.1 L2898.6 274.7 L2904.2 279.8 L2911.2 277.5 L2918.2 277.5 L2924.3 285.3 L2933.6 284.5 L2942 283.1 L2948.9 280.3 L2955.9 281.7 L2962.9 280.9 L2968.5 283.1 L2972.7 279.8 L2979.7 279.8 L2986.7 278.1 L2993.7 276.7 L3000.7 277.5 L3006.2 278.9 L3011.8 281.1 L3018.8 281.7 L3026.4 285.1 L3031.4 282.5 L3036.1 282.5 L3041.2 287.9 L3047.3 287.3 L3051 290.1 L3054.3 295.7 L3060.7 316.6 L3069.1 344.6 L3077.5 372.5 L3083.1 392.1 L3086.5 407.5 L3085.3 422.9 L3084.8 438.2 L3086.5 449.4 L3094.3 459.2 L3100.4 467.6 L3102.7 473.2 L3103.2 483 L3106.9 494.1 L3111.1 506.7 L3115.2 510.3 L3127.3 517.3 L3128.4 531.9 L3130.6 548.6 L3136.2 559.8 L3140.4 568.2 L3143.2 582.2 L3144.6 590"/>
<path d="M3127.8 522.1 L3120.8 522.6 L3114.4 521.2 L3110.5 524.9 L3108.3 531.3 L3102.7 532.4 L3100.4 526.3 L3095.7 525.7 L3091.5 531.3 L3085.9 530.5 L3081.7 529.1 L3076.1 527.7 L3071.1 526.3 L3067.7 531.3 L3060.7 533.3 L3055.2 535.2 L3049.6 537.5 L3046.2 536.1 L3044 530.5 L3039.8 527.7 L3035.6 531.3 L3030 533.3 L3023 536.1 L3028.6 537.5 L3029.2 543 L3024.4 547.2 L3020.8 550 L3021.1 559.8 L3021.6 570.4 L3030 570.4 L3041.2 568.2 L3046.2 576.6 L3038.4 578.8 L3033.4 579.4 L3034.2 586.4 L3038.4 585 L3041.2 590"/>
<path d="M2620 666.7 L2626.3 668.8 L2627.7 663.9 L2631.2 661.8 L2638.2 665.6 L2648 664.9 L2649.3 669.5 L2659.1 673.6 L2666.8 675.7 L2663.3 682.7 L2660.5 686.9 L2657 685.5 L2652.8 680.6 L2643.8 682.4 L2644.5 686.2 L2645.2 690.1 L2649.3 689.7 L2650 693.9 L2650.7 698.1 L2654.9 698.8 L2660.5 697.1 L2664.7 698.8 L2668.2 704.4 L2671.7 710.7 L2671 717 L2663.3 719.4 L2660.5 717.7 L2658.1 714.9 L2655.6 715.9 L2656 721.2 L2646.6 723.3 L2639.6 726.8 L2636.1 724 L2632.6 721.2 L2629.1 721.5 L2626.3 726.8 L2627.7 729.5 L2631.9 730.9 L2636.8 735"/>
<path d="M2671.7 712.1 L2675.9 711 L2681.5 710.3 L2682.2 714.9 L2687.8 715.2 L2689.9 712.8 L2697.6 712.4 L2696.9 706.5 L2699.7 705.1 L2705.2 704.4 L2710.1 705.1 L2713.6 708.9 L2717.8 704.4 L2719.9 699.5 L2716.4 698.8 L2713.6 693.9 L2711.5 689.7 L2702.5 690.4 L2692.7 696.7 L2689.2 698.1 L2682.9 699.5 L2684.3 696 L2681.5 691.1 L2689.9 686.9 L2694.8 686.2 L2693.4 681.3 L2703.9 679.2 L2713.6 677.1 L2710.8 669.1 L2712.9 666.7 L2723.4 661.8 L2729.7 655.5 L2738.8 656.2 L2741.6 658.6 L2750.7 653.7 L2753.5 657.9 L2747.2 661.4 L2748.6 668.8 L2752.8 668.1 L2757 678.5 L2763.9 676.4 L2769.5 677.8 L2773 682.4 L2777.2 684.8 L2772.3 689.7 L2766 689 L2766.4 696.7 L2764.6 704.4 L2766.7 709.3 L2772.3 711 L2773.7 714.2 L2781.4 712.1 L2782.1 717.7 L2777.2 724.7 L2785.6 722.6 L2787 728.2 L2793.3 723.3 L2800 724"/>
<path d="M2711.5 689.7 L2715 685.5 L2719.2 687.6 L2728 684.1 L2730.4 691.1 L2732.5 696 L2732.8 701.6 L2727.6 707.9 L2726.9 710 L2720.6 713.1 L2712.2 717.7 L2713.6 722.6 L2713.6 727.5 L2712.2 730.9 L2712.2 735"/>
<path d="M2560 677.7 L2567 676.6 L2571.9 679.1 L2575.4 681.9 L2578.9 679.8 L2580.3 674.2 L2582.4 666.6 L2585.9 663.8 L2593.5 667.3 L2604 663.1 L2610.3 663.8 L2620 666.6"/>
<path d="M2636.7 735 L2638.3 736.4 L2634.1 739.2 L2633.4 744.8 L2639 746.9 L2633.4 748.3 L2630.6 751.8 L2628.5 760.2 L2627.1 768.6 L2631.3 774.9 L2628.5 779.8 L2625.7 786.7 L2620.1 791.6 L2614.5 788.1 L2607.5 793.7 L2600.5 797.9 L2599.1 792.3 L2593.5 794.4 L2588 783.9 L2581 786.7 L2574 791.6 L2564.2 794.4 L2563.5 807.7 L2562.1 820"/>
<path d="M2712.2 735 L2712.3 744.8 L2713 751.8 L2715.1 758.8 L2717.9 765.8 L2722.8 767.2 L2724.9 760.2 L2727.7 760.5 L2729.8 770.7 L2736.1 770 L2741.7 767.2 L2744.5 761.6 L2740.3 760.5 L2741.7 756 L2740.3 751.8 L2735.4 750.4 L2734.7 746.2 L2741.7 740.6 L2745.9 744.8 L2749.4 744.1 L2753.6 754.6 L2761.2 751.8 L2765.4 744.1 L2771 739.9 L2773.1 744.8 L2768.2 748.3 L2766.8 751.8 L2769.6 758.8 L2764 763 L2755.7 765.1 L2754.3 771.4 L2758.4 775.6 L2754.3 779.8 L2752.2 786.7 L2753.6 793.7 L2745.9 795.1 L2744.5 802.1 L2745.9 807.7 L2744.5 814 L2730.5 814.7 L2729.8 811.2 L2722.1 811.2 L2713.7 808.4 L2708.1 813.3 L2705.3 820"/>
<path d="M2800 724 L2803.9 722.5 L2806 727.3 L2813 728 L2818.5 727.3 L2826.2 729.4 L2831.1 726.6 L2839.5 725.2 L2846.5 722.5 L2853.5 724.5 L2858.4 725.9 L2862.6 720.4 L2867.5 723.9 L2874.4 718.3 L2881.4 716.6 L2888.7 716.6 L2888.4 705.7 L2887.7 695.9 L2886.7 687.5 L2885.6 681.9 L2891.2 677.7 L2895.4 681.9 L2899.6 686.8 L2906.6 685.4 L2908 674.2 L2913.6 672.8 L2910.8 666.6 L2910.1 658.2 L2912.2 647 L2920 647"/>
<path d="M3144.6 590 L3143.2 606.8 L3141.8 623.5 L3143.2 640.3 L3144.6 657.1 L3146 673.9 L3146.8 687.8 L3146 704.6 L3144.6 721.4 L3141.2 729.8 L3139 742.3 L3141.8 752.1 L3142.4 760.5 L3139 771.7 L3136.2 781.5 L3132.9 789.8 L3136.2 798.2 L3138.4 806.6 L3141.8 812.2 L3153 814.4 L3154.4 827.6 L3155.8 837.4 L3153 848.5 L3150.7 861.1 L3152.4 872.3 L3155.8 882.1 L3158.6 890.5 L3159.1 903 L3159.4 917 L3159.4 931 L3160.8 936.6 L3164.2 938.8 L3168.4 935.2 L3175.3 936.6 L3187.9 938 L3208.9 938 L3231.2 937.4 L3250.8 937.1 L3262 938.8 L3263.4 950"/>
<path d="M3138.4 806.6 L3125 813 L3067.7 772.2 L3055.2 775.3 L3046.8 785.7 L3031.4 799.6 L3027.2 813.6 L3014.6 838.8 L3007.6 851.3 L2999.3 862.5 L2990.9 877.9 L2988.6 897.5 L2988.1 914.2 L2989.5 931 L2992.3 933.2 L2999.3 928.2 L3002 936.6 L3010.4 945 L3014.6 950"/>
<path d="M3141.8 950 L3143.2 929.6 L3150.2 930.4 L3155.8 929.6 L3160 936.6"/>
<path d="M3045.4 590 L3047.3 598.4 L3044 604.5 L3009 608.2 L3007.6 599.8 L2997.9 601.2 L2985.3 594.2 L2982.5 591.4 L2981.1 597 L2981.1 611 L2974.1 609.6 L2976.9 618 L2979.7 624.9 L2971.3 630.5 L2967.1 633.3 L2971.3 638.9 L2968.5 648.7 L2960.1 655.7 L2954.5 655.7 L2949.5 658.5 L2950.3 662.1 L2943.4 648.7 L2937.8 647.3 L2932.2 650.1 L2926.6 650.9 L2919.9 648.1"/>
<path d="M2706.3 819.8 L2697.4 822 L2696 830.4 L2700.7 836 L2701.6 844.3 L2711.4 848.5 L2714.2 855.5 L2725.3 861.1 L2736.5 857.8 L2739.3 865.3 L2743.5 869.5 L2735.1 873.7 L2730.9 882.1 L2729.5 890.5 L2714.2 893.3 L2703 887.7 L2700.2 897.5 L2698.8 903 L2684.8 910 L2680.6 918.4 L2684.8 925.4 L2675 932.4 L2673.6 939.4 L2669.4 946.4 L2666.6 950"/>
<path d="M1860 908.6 L1868.4 905.8 L1877.3 904.4 L1881 897.5 L1888 890.5 L1893 882.1 L1894.9 872.3 L1901.9 863.9 L1910.3 861.1 L1917.3 858.3 L1918.7 851.3 L1924.3 845.7 L1931.3 843 L1939.7 845.7 L1943.9 836 L1949.4 829.8 L1955 824.8 L1956.4 815.8 L1962 813.6 L1963.4 802.4 L1962 796.8 L1967.6 789.8 L1964.8 782.9 L1970.4 774.5 L1973.2 766.1 L1977.4 757.7 L1976 749.3 L1980.2 739.5 L1984.4 736.7 L1987.2 728.4 L1995.6 722.8 L1997 714.4 L2003.9 711.6 L2008.1 715.8 L2013.7 713 L2022.1 708.8 L2034.7 709.3 L2041.7 710.7 L2051.5 713 L2055.7 708.8 L2059.8 717.2 L2068.2 721.4 L2075.2 727 L2083.6 732.5 L2092 735.3 L2097.6 743.7 L2103.2 749.3 L2108.8 754.9 L2114.3 759.9 L2121.3 757.7 L2125.5 761.9 L2136.7 759.1 L2145.1 757.1 L2152.1 760.5 L2157.7 768.9 L2161.9 773.1 L2167.5 774.5 L2173 778.7 L2181.4 775 L2189.8 777.3 L2198.2 781.5 L2205.2 785.1 L2212.2 787 L2217.8 784.3 L2226.1 787 L2237.3 785.1 L2244.3 780.1 L2251.3 774.5 L2256.9 773.1 L2263.9 775.9 L2269.5 778.7 L2279.3 778.1 L2293.2 779.5 L2304.4 774.5 L2314.2 768.3 L2325.4 760.5 L2331 746.5 L2335.2 735.3 L2338.5 721.4 L2340.2 711.6 L2346.3 701.8 L2351.9 685 L2357.5 671.1 L2363.1 657.1 L2365.3 650.1 L2361.7 641.7 L2359.5 634.2 L2368.7 632.5 L2375.7 631.9 L2379.9 628.6 L2407.8 621.3 L2430.2 615.7 L2435.8 612.4 L2440.8 606.8 L2442.8 595.6 L2448.4 590"/>
<path d="M2430.2 615.7 L2431.6 626.3 L2434.4 634.7 L2437.2 639.8 L2447 641.7 L2458.1 640.9 L2467.9 647.3 L2474.3 650.9 L2479.1 644.5 L2491.7 639.8 L2504.3 634.7 L2503.7 627.7 L2510.7 627.7 L2512.6 651.5 L2521 654.8 L2528 663.2 L2534.2 663.2 L2535 672.5 L2536.4 676.6 L2543.4 673.9 L2549 679.4 L2559.9 678.3"/>
<path d="M2562.1 820 L2560.2 823.4 L2565.7 827.6 L2568.5 841.6 L2567.1 849.9 L2574.1 858.3 L2576.9 872.3 L2580 879.3"/>
<path d="M1949.4 829.8 L1957.8 830.4 L1959.2 849.9 L1960.1 872.3 L1971.8 878.7 L1978.8 868.1 L1983 849.9 L1986.3 834.6 L1995.6 835.4 L1996.4 826.2 L2006.7 827.6 L2009.5 820.6 L2008.7 810.2 L2027.7 810.8 L2041.7 812.2 L2047.8 813.6 L2043.1 826.2 L2027.1 820.6 L2024.9 829.8 L2037.5 833.7 L2030.5 844.3 L2025.5 852.7 L2033.9 861.7 L2031.9 883.5 L2055.7 889.6 L2072.4 902.5 L2059 920.4 L2080.8 930.4 L2092 933.8 L2106 941.6 L2108.8 936.6 L2114.3 937.4 L2122.7 944.4 L2125.5 950"/>
<path d="M2448.3 588.9 L2453.9 581.4 L2462.2 577.7 L2464.1 573 L2470.6 568 L2478.1 568 L2484.6 563.7 L2489.3 558.1 L2491.1 550.7 L2489.3 544.2 L2488.7 538.6 L2492 532 L2493.9 524.6 L2495.4 516.2 L2498.6 506.9 L2498 501.3 L2500.4 495.7 L2501.7 488.3 L2502.9 479.9 L2507.9 476.1 L2514.4 476.1 L2516.3 471.5 L2514.4 466.8 L2519.1 463.1 L2522.8 456.6 L2529.3 453.8 L2533 450.1 L2540.5 446.3 L2545.2 444.5 L2548 438 L2553.5 438 L2559.1 438 L2562.9 434.2 L2573.1 434.2 L2577.8 428.6 L2578.7 421.2 L2580.6 415.6 L2582.4 411.5"/>
<path d="M1616 633.9 L1616 950"/>
<path d="M1616 633.9 L1624.9 641.7 L1630.5 650.1 L1637.5 653.7 L1643.1 655.7 L1650.1 658.5 L1654.3 666 L1661.3 671.9 L1665.5 675.2 L1666.9 682.2 L1672.5 690.6 L1675.2 699 L1680.8 707.4 L1685 714.4 L1687.8 722.8 L1694.8 729.8 L1701.2 735.3 L1698.4 742.3 L1703.2 750.7 L1705.2 756.3 L1700.4 760.5 L1704.6 768.9 L1708.8 775.9 L1711.6 782.9 L1715.8 787 L1717.2 795.4 L1720 802.4 L1722.8 808 L1720.8 816.4 L1722.8 826.2 L1725.6 832.6 L1721.9 838.8 L1718.6 847.1 L1714.4 854.1 L1707.4 861.1 L1703.2 869.5 L1696.2 876.5 L1693.4 886.3 L1696.2 897.5 L1696.2 908.6 L1694.8 919.8 L1697.6 928.2 L1699 935.2 L1703.2 942.7 L1707.4 938.8 L1714.4 938 L1721.4 932.4 L1729.8 928.2 L1739.5 930.4 L1745.1 936 L1753.5 936.6 L1761.9 938.8 L1768.9 936 L1777.3 935.2 L1782.9 936 L1788.4 932.4 L1796.8 932.4 L1805.2 935.2 L1810.8 938 L1819.2 936 L1824.8 938 L1831.8 936.6 L1838.8 931.6 L1843 924 L1841.6 915.6 L1847.1 908.6 L1860 909.5"/>
<path d="M1616 950 L1616 1163.8 L1609.6 1165.8 L1601.2 1166.6 L1597 1169.4 L1594.2 1175.8 L1587.2 1173.6 L1583 1172.2 L1574.6 1178.6 L1567.6 1175.8 L1560.7 1179.2 L1557 1187.6 L1553.1 1190.9 L1552.3 1200.2 L1546.7 1205.7 L1539.7 1209.4 L1532.7 1209.4 L1525.7 1207.7 L1521.5 1212.7 L1519.6 1220.6 L1522.4 1228.1 L1527.1 1232.3 L1524.3 1234.5 L1519.6 1233.7 L1514.5 1239.3 L1504.8 1242.6 L1499.2 1240.7 L1493.6 1236.5 L1489.4 1235.7 L1488 1229.5 L1481 1226.1 L1469.8 1225.3 L1461.4 1223.9 L1454.4 1222.5 L1444.7 1224.8 L1440.5 1223.9 L1432.1 1227.3 L1427.9 1229.5 L1422.3 1229.5 L1415.3 1232.3 L1406.9 1230.3 L1395.7 1230.3 L1390.2 1232.3 L1386 1235.1 L1380.4 1231.7 L1374.8 1228.9 L1367.8 1228.1 L1362.2 1220.6 L1355.2 1215.5 L1349.6 1213.3 L1339.8 1212.2 L1332.9 1211.3 L1325.9 1212.2 L1318.9 1214.1 L1313.3 1212.7 L1310.5 1203 L1304.9 1202.4 L1296.5 1203.8 L1287.6 1206.6 L1288.1 1196 L1289.5 1186.2 L1282.5 1183.4 L1279.8 1175.8 L1277 1170.8 L1279.8 1165.2 L1286.7 1161 L1286.7 1154 L1283.1 1147 L1281.1 1140.1 L1275.6 1135 L1268.6 1137.3 L1263 1137.3 L1258.8 1131.7 L1259.6 1117.7 L1253.2 1116.3 L1247.6 1109.3 L1243.4 1107.9 L1236.4 1110.7 L1229.4 1112.1 L1222.5 1112.1 L1221.1 1123.3 L1214.1 1127.5 L1214.1 1134.5 L1208.5 1135.9 L1208.5 1141.5 L1202.9 1144.3 L1205.7 1151.2 L1209.9 1155.4 L1205.7 1161 L1204.8 1168 L1200.1 1173.6 L1194.5 1170.8 L1188.9 1173.6 L1183.3 1179.2 L1174.9 1182 L1168 1184.2 L1164.6 1190.4 L1165.7 1196 L1172.1 1200.2 L1176.3 1204.3 L1181.4 1208.5 L1181.9 1218.3 L1184.7 1229.5 L1191.7 1233.7 L1195.9 1237.9 L1200.1 1249.1 L1207.1 1256.1 L1212.1 1260.2 L1214.1 1270 L1215.5 1278.4 L1219.7 1286.8 L1223.3 1295.2 L1228 1302.2 L1230.8 1310"/>
<path d="M2125.5 950.1 L2128.9 959.3 L2129.7 965.8 L2122.7 968.6 L2117.1 981.7 L2111.6 993.7 L2124.1 1002.1 L2136.1 1009.7 L2132.5 1022.2 L2131.1 1033.4 L2130.6 1044.6 L2139.5 1047.4 L2137.3 1061.4 L2139.5 1065 L2160.5 1060 L2177.2 1055.8 L2182.8 1060 L2178.6 1067 L2182.8 1071.1 L2178.6 1078.1 L2170.2 1089.3 L2177.2 1093.5 L2184.2 1101.1 L2181.4 1106.1 L2193.2 1115.9 L2196.8 1108.9 L2203.8 1105.5 L2204.3 1097.7 L2202.4 1089.3 L2209.4 1083.2 L2213.6 1079.5 L2209.4 1072.5 L2212.7 1064.2 L2210.8 1055.8 L2212.7 1050.7 L2222 1049.6 L2222.8 1045.2 L2226.1 1050.2 L2226.7 1058.6 L2245.7 1056.3 L2258.3 1058.6 L2244.3 1075.3 L2230.3 1092.1 L2238.7 1106.1 L2245.7 1118.7 L2249.9 1115 L2261.1 1112.2 L2265.3 1105.5 L2262.5 1100.5 L2269.5 1092.1 L2279.3 1085.1 L2284.8 1080.9 L2286.2 1073.9 L2296 1072.5 L2301.6 1065.6 L2312.8 1059.1 L2324 1057.2 L2326.8 1053 L2332.4 1054.4 L2336.6 1058 L2338 1050.2 L2349.1 1043.2 L2357 1039.8 L2361.7 1047.4 L2368.7 1045.2 L2376.5 1048.8 L2380.4 1054.4 L2380.4 1061.4 L2384.1 1064.7 L2390.5 1058.6 L2387.7 1053 L2389.7 1046 L2396.6 1039 L2407.3 1032 L2409.2 1023.6 L2414.8 1018.9 L2423.2 1013.3 L2431.6 1015.2 L2437.2 1013.9 L2444.2 1014.4 L2436.3 1008.8 L2441.4 1003.2 L2442.8 995.7 L2437.2 990.1 L2433 981.7 L2440 977.5 L2445.6 973.3 L2453.9 971.9 L2458.1 959.3 L2467.9 957.4 L2474.9 951.8 L2486.1 948.2 L2495 951 L2497.3 941.2 L2504.3 945.4 L2512.6 948.2 L2526.6 947.3 L2530.8 953.8 L2539.2 945.4 L2546.2 937 L2556 945.4 L2564.3 941.2 L2571.3 932.8 L2572.7 930"/>
<path d="M2254.7 1114.5 L2249.9 1138.2 L2235.9 1142.4 L2238.7 1148 L2244.3 1149.4 L2240.1 1164.8 L2233.1 1175.4 L2235.9 1178.8 L2230.3 1192.7 L2240.1 1196.9 L2217.8 1240.2 L2192.6 1290"/>
<path d="M2579.8 879.1 L2585.3 877.3 L2586.3 883.8 L2583.5 886.6 L2583.5 892.2 L2582.5 899.6 L2575.1 895.9 L2582.5 899.6 L2580.7 899.6 L2578.8 907.1 L2578.8 914.5 L2579.8 920.1"/>
<path d="M2571.4 933.2 L2570.4 927.6 L2574.2 925.7 L2579.8 923.9 L2579.8 920.1 L2582.5 913.6 L2584.4 919.2 L2587.2 920.1 L2587.2 924.8 L2592.8 924.3 L2597.5 922.9 L2601.2 925.7 L2604 928 L2604.9 922.9 L2609.6 921.5 L2615.2 921.1 L2618.9 920.6 L2620.3 915.5 L2624.9 914.1 L2627.3 910.3 L2631 910.8 L2632.9 914.5 L2633.3 919.2 L2635.7 925.7 L2637.3 930"/>
<path d="M2637.3 930 L2642.9 935.6 L2648.5 942.6 L2654.1 938.4 L2661.1 945.4 L2669.4 941.2 L2676.4 949.6 L2684.8 948.2 L2687.6 958 L2694.6 951.8 L2703 966.3 L2711.4 959.3 L2714.2 951.8 L2722.5 953.8 L2730.9 958 L2739.3 963.5 L2746.3 964.9 L2747.7 960.2 L2756.1 956.6 L2767.8 959.3 L2770.1 969.1 L2775.7 981.7 L2784 978.1 L2789.6 978.9 L2792.4 984.5 L2802.2 988.7 L2803.6 994.8 L2810.6 992.9 L2817.6 997.1 L2821.8 1004.1 L2826 1009.7 L2833 1019.4 L2837.1 1026.4 L2840.5 1030.1"/>
<path d="M2840.5 1030.1 L2849.7 1028.4 L2848.9 1022.2 L2855.3 1020 L2862.3 1022.2 L2866.5 1013.3 L2873.5 1012.5 L2877.7 1008.8 L2884.7 1012.5 L2890.2 1013.9 L2897.2 1011.1 L2905.6 1017.2 L2914 1009.7 L2918.2 1012.5 L2924.3 1004.1 L2933.6 1002.1 L2934.4 996.5 L2942 997.1 L2942.8 1004.9 L2951.7 1003.2 L2958.7 1004.9 L2967.1 999.9 L2976.9 998.5 L2982.5 1002.1 L2988.1 1004.9 L2993.7 1008.8 L2997.9 1002.7 L3004.8 1002.1 L3007.6 1011.1 L3018.8 1008.3 L3027.2 1005.5 L3035.6 1011.1 L3041.2 1004.1 L3049.6 994.8"/>
<path d="M2849.7 1028.4 L2858.1 1034.8 L2860.9 1041.8 L2855.3 1046 L2845.5 1051.6 L2850.6 1058.6 L2851.1 1068.4 L2853.9 1074.8 L2848.9 1080.9 L2847.8 1090.7 L2842.7 1093.5 L2845.5 1097.7 L2841.3 1106.1 L2839.4 1114.5 L2844.1 1120.1 L2845 1127 L2839.9 1129.8 L2839.9 1136.8 L2830.2 1138.2 L2823.2 1141 L2817.6 1148 L2812 1155 L2803.6 1160.6 L2798 1164.2 L2791.9 1164.2 L2786.8 1173.2 L2787.4 1178.8 L2779 1183.8 L2774.3 1180.2 L2758.9 1184.3 L2753.3 1192.7 L2747.1 1205.3 L2747.1 1212.3"/>
<path d="M2580 1272.4 L2585.6 1265.4 L2589.8 1255.6 L2595.4 1248.6 L2599.6 1238.9 L2603.8 1232.4 L2616.3 1233.3 L2624.7 1224.9 L2634.5 1230.5 L2640.1 1223.5 L2647.1 1210.9 L2655.5 1202.5 L2669.4 1205.3 L2677.8 1202.5 L2684.8 1192.7 L2694.6 1190.5 L2705.8 1189.9 L2715.6 1184.3 L2721.1 1191.3 L2722.5 1198.3 L2732.3 1202.5 L2736.5 1213.7 L2747.1 1212.3 L2753.3 1220.7 L2756.1 1231.9 L2763.1 1231.9 L2767.3 1237.5 L2775.7 1245.8 L2784 1251.4 L2791 1261.2 L2800.8 1259.8 L2805.8 1269.6 L2806.4 1276.6 L2814.8 1280.8 L2817.6 1290"/>
<path d="M3011.8 950.1 L3016 964.9 L3024.4 973.3 L3034.2 985.9 L3049.6 992 L3077.5 1003.2 L3108.3 1003.2 L3139 1003.2 L3138.4 974.7 L3141.8 950.1"/>
<path d="M3262.5 944 L3259.2 955.2 L3255 974.7 L3248 997.1 L3239.6 1019.4 L3234 1034.8 L3232.6 1053 L3227 1072.5 L3224.3 1089.3 L3222.9 1106.1 L3220.1 1122.9 L3213.1 1139.6 L3206.1 1153.6 L3201.9 1162 L3201.1 1172.6 L3194.3 1171.8 L3189.3 1181.6 L3178.1 1192.7 L3168.4 1202.5 L3155.8 1215.1 L3143.2 1227.7 L3132 1234.7 L3115.2 1240.2 L3105.5 1248.6 L3095.7 1259.8 L3083.1 1273.8 L3069.1 1290"/>
<path d="M2817.6 1290 L2819 1298.4 L2814.8 1306.8 L2809.2 1312.4 L2798 1318 L2800.8 1327.7 L2796.6 1331.9 L2798 1338.9 L2788.2 1341.7 L2781.2 1347.3 L2779.8 1354.3 L2777 1361.3 L2777 1368.3 L2772.9 1369.7 L2779.8 1373.9 L2781.8 1379.4 L2775.7 1383.6 L2770.1 1387.8 L2763.1 1392"/>
<path d="M2763.1 1392 L2753.3 1397.6 L2742.1 1403.2 L2730.9 1407.4 L2717 1411.6 L2703 1409.6 L2691.8 1414.4 L2683.4 1413 L2677.8 1421.4 L2673.6 1427 L2663.9 1428.4 L2659.7 1433.9 L2663.9 1440.9 L2668 1443.7 L2665.2 1452.1 L2656.9 1454.9 L2652.7 1460.5 L2655.5 1468.9 L2651.3 1475.9 L2647.1 1480.1 L2648.5 1488.4 L2638.7 1487 L2630.3 1486.2 L2624.7 1482.9 L2621.9 1478.7 L2606.6 1481.5 L2599.6 1478.7 L2592.6 1470.3 L2585.6 1463.3 L2582.8 1456.3 L2580 1453.5"/>
<path d="M2763.1 1392 L2771.5 1400.4 L2775.1 1407.4 L2774.3 1417.2 L2778.4 1427 L2785.4 1433.1 L2792.4 1431.1 L2798 1436.7 L2798.6 1446.5 L2792.4 1450.7 L2786.8 1454.9 L2784 1463.3 L2779.8 1468.9 L2775.7 1474.5 L2779 1481.5 L2784 1484.3 L2791 1481.5 L2799.4 1484.3 L2805 1489 L2812 1484.3 L2825.4 1481.5 L2831.6 1485.7 L2837.1 1490.7 L2845.5 1488.4 L2851.1 1493.5 L2859.5 1495.4 L2863.7 1492.6 L2869.3 1499.1 L2876.3 1505.2 L2881.9 1503.8 L2884.7 1510.8 L2893 1513.6 L2898.6 1516.4 L2904.2 1523.4 L2907 1530.4 L2905.6 1537.4 L2909.8 1541.6 L2912.6 1547.1"/>
<path d="M3069.1 1290 L3059.3 1301.2 L3051 1312.4 L3041.2 1326.3 L3032.8 1340.3 L3025.8 1354.3 L3020.2 1365.5 L3023 1373 L3016 1382.2 L3007.6 1392 L3000.7 1400.4 L2993.7 1414.4 L2985.3 1429.8 L2976.9 1443.7 L2968.5 1457.7 L2960.1 1471.7 L2950.3 1487 L2940.6 1502.4 L2932.2 1516.4 L2925.2 1527.6 L2919.6 1536 L2912.6 1547.1 L2904.2 1558.3 L2895.8 1569.5 L2886.1 1580.7 L2876.3 1590.5 L2867.9 1598.9 L2858.1 1600.8 L2852.5 1607.2 L2845.5 1615.6 L2837.1 1622.6 L2828.8 1628.2 L2820.4 1633.2 L2813.4 1636.6 L2807.8 1645 L2803.6 1650"/>
<path d="M2192.6 1290 L2168.9 1341.7 L2169.7 1350.1 L2174.4 1354.3 L2178.6 1363.2 L2188.4 1364.9 L2194 1371.1 L2199.6 1378 L2208 1377.2 L2210.8 1386.4 L2219.2 1389.2 L2226.7 1393.4 L2226.1 1400.4 L2231.7 1408.8 L2238.7 1420 L2245.7 1425.6 L2249.9 1433.9 L2256.3 1434.8 L2256.9 1442.3 L2265.3 1450.7 L2273.7 1459.1 L2282 1466.1 L2290.4 1474.5 L2298.8 1473.1 L2308.6 1480.1"/>
<path d="M2308.6 1480.1 L2318.4 1479.5 L2326.8 1476.7 L2331 1485.7 L2339.3 1488.4 L2349.1 1490.7 L2352.5 1482.9 L2363.1 1478.7 L2365.3 1471.7 L2374.3 1468.9 L2385.5 1466.6 L2395.2 1465.5 L2399.4 1461.1 L2403.6 1466.1 L2412 1470.3 L2416.2 1476.7 L2424.6 1475.9 L2433 1473.1 L2440 1480.1 L2447 1485.7 L2458.1 1489.8 L2466.5 1489 L2479.1 1483.7 L2487.5 1489.8 L2498.7 1487 L2500.1 1481.5 L2508.4 1477.8 L2509.8 1470.3 L2519.6 1468.9 L2530.8 1463.3 L2542 1457.7 L2550.4 1450.7 L2556 1445.1 L2558.2 1437.6 L2565.7 1436.7 L2571.3 1446.5 L2578.3 1452.1 L2580 1454.3"/>
<path d="M2558.2 1437.6 L2553.2 1429.8 L2553.7 1420 L2558.2 1413 L2549 1411.6 L2546.2 1401.8 L2542 1396.2 L2535 1392 L2519.6 1352.9 L2508.4 1341.7 L2515.4 1334.7 L2530.8 1327.7 L2544.8 1320.7 L2556 1311 L2564.3 1299.8 L2571.3 1290 L2580 1272.4"/>
<path d="M2308.6 1480.1 L2310.6 1496.8 L2314.2 1505.2 L2322.6 1505.8 L2312.8 1515 L2317 1522 L2314.2 1533.2 L2316.1 1537.4 L2308.6 1547.1 L2304.4 1555.5 L2301.1 1562.5 L2298.8 1569.5 L2287.6 1566.7 L2279.3 1563.9 L2270.9 1569.5 L2259.7 1574.5 L2251.3 1575.1 L2242.9 1582.1 L2233.1 1583.5 L2231.7 1589.6 L2223.4 1591.9 L2215 1595.2 L2208 1592.4 L2198.2 1594.7 L2195.4 1605.8 L2191.2 1608.6 L2189.3 1619.8 L2191.2 1629.6"/>
<path d="M1230.8 1310.1 L1233.6 1320.7 L1237.8 1331.9 L1241.2 1343.1 L1243.4 1355.7 L1247.6 1369.7 L1251.8 1382.2 L1256 1392 L1258.8 1404.6 L1264.4 1418.6 L1268.6 1429.8 L1270.8 1438.1 L1277 1450.7 L1283.9 1464.7 L1290.9 1480.1 L1292.3 1485.7 L1300.7 1498.2 L1306.3 1510.8 L1313.3 1524.8 L1320.3 1536 L1324.5 1547.1 L1330.1 1558.3 L1338.4 1566.7 L1345.4 1575.1 L1346.8 1583.5 L1353.8 1593.3 L1362.2 1603 L1370.6 1614.2 L1377 1622.6 L1380.4 1629.6 L1386 1638 L1390.2 1645 L1391 1650"/>
<path d="M1339.8 1562.5 L1337.9 1549.9 L1345.4 1543 L1353.8 1537.4 L1349.6 1531.8 L1346.3 1526.2 L1353.8 1524.2 L1361.4 1523.4 L1361.4 1510.8 L1363.6 1505.8 L1369.8 1503.8 L1377.6 1509.4 L1383.2 1515 L1388.2 1510.2 L1393.8 1512.2 L1401.3 1499.6 L1409.7 1485.7 L1409.7 1475.9 L1416.7 1464.7 L1409.7 1458.3 L1422.3 1467.5 L1429.3 1480.1 L1423.7 1468.9 L1425.1 1457.1 L1434 1453.5 L1440.5 1464.7 L1446.1 1473.1 L1457.2 1473.9 L1462.8 1481.5 L1463.7 1488.4 L1471.2 1495.4 L1483.2 1499.1 L1484.3 1516.4 L1472.6 1520.6 L1488 1528.1 L1478.2 1533.2 L1476.8 1543 L1482.4 1554.1 L1483.2 1569.5 L1485.2 1577.9 L1491.6 1582.1 L1487.1 1587.7 L1492.7 1591.9 L1495.5 1598.9 L1493.6 1605.8 L1489.9 1610.9 L1500.6 1613.7 L1495.5 1619.8 L1500.6 1624 L1497.8 1629.6 L1496.4 1636.6 L1500.6 1642.7 L1497.8 1650"/>
<path d="M1391 1650 L1394.9 1658.4 L1397.7 1668.2 L1395.7 1673.8 L1399.4 1683.5 L1402.2 1694.7 L1401.3 1704.5 L1404.1 1715.7 L1405.5 1724.1 L1402.2 1731.1 L1404.1 1745 L1402.7 1756.2 L1398.5 1767.4 L1391.6 1778.6 L1384.6 1787 L1377.6 1793.9 L1370.6 1795.3 L1363.6 1788.4 L1358 1781.9 L1352.4 1784.2 L1348.2 1789.8 L1349.1 1795.3 L1342.6 1799.5 L1343.5 1807.9 L1346.8 1814.9 L1345.4 1823.3 L1349.6 1830.3 L1356.6 1827.5 L1363.6 1828.9 L1367.8 1834.5 L1363.6 1841.5 L1372 1849.8 L1377.6 1854 L1373.4 1856.8 L1379 1865.2 L1383.2 1875 L1380.4 1877.8 L1388.8 1883.4 L1395.7 1890.4 L1402.2 1898.8 L1402.7 1904.3 L1401.3 1908.5 L1408.3 1914.1 L1415.3 1922.5 L1418.1 1930.9 L1419.5 1940.7 L1423.7 1949.1"/>
<path d="M1497.8 1650 L1491.6 1655.6 L1492.2 1662.6 L1500.6 1665.4 L1508.9 1669 L1515.9 1667.3 L1520.1 1673.8 L1526.3 1661.2 L1525.2 1672.4 L1529.9 1679.3 L1536.9 1686.3 L1542.5 1683.5 L1549.5 1690.5 L1555.1 1697.5 L1550.9 1701.7 L1552.3 1710.1 L1550.9 1717.1 L1541.1 1723.2 L1543.9 1733.9 L1549.5 1745 L1554.2 1751.2 L1551.4 1757.6 L1552.3 1767.4 L1556.5 1779.1 L1564.8 1774.4 L1566.2 1761.8 L1569 1747.8 L1576 1745 L1581.6 1739.4 L1590 1739.4 L1594.2 1732.5 L1601.2 1735.2 L1609.6 1733.9 L1616.6 1728.3 L1623.5 1722.7 L1624.9 1717.1 L1631.9 1714.8 L1634.7 1708.7 L1638.9 1708.1 L1638.9 1712.9 L1646.5 1712.9 L1648.7 1725.5 L1641.7 1728.3 L1636.1 1733.9 L1634.2 1740.8 L1626.3 1739.4 L1627.7 1747.8 L1630.5 1760.4 L1634.7 1770.2 L1638.9 1778.6 L1640.3 1789.8 L1645.9 1795.3 L1654.3 1798.1 L1661.3 1807.9 L1665.5 1812.1 L1672.5 1817.7 L1679.4 1817.7 L1687.3 1809.3 L1691.2 1817.7 L1699 1817.1 L1710.2 1817.7 L1715.8 1812.1 L1720 1805.1 L1722.8 1795.3 L1720 1788.4 L1717.2 1784.2 L1724.2 1777.2 L1738.1 1773.5 L1750.7 1775.8 L1761.9 1772.4 L1763.9 1766 L1768.9 1754.8 L1777.3 1746.4 L1781.5 1735.2 L1791.2 1733.9 L1801 1729.7 L1815 1725.5 L1812.2 1714.8 L1822 1711.5 L1830.4 1716.5 L1836 1711.5 L1844.3 1717.1 L1854.1 1719.9 L1860 1718.5"/>
<path d="M1860 1719.4 L1862.8 1713.9 L1871.2 1709.7 L1872.6 1699.9 L1881 1692.9 L1881 1702.1 L1888 1690.1 L1883.8 1684.5 L1879.6 1671.9 L1886.6 1666.3 L1881 1659.3 L1892.1 1664.9 L1896.3 1651 L1900.5 1642.6 L1903.3 1630 L1906.1 1621.3 L1910.3 1621.3 L1935.5 1633.9 L1943.9 1635.6 L1949.4 1641.2 L1943.9 1651 L1949.4 1655.2 L1963.4 1651 L1969 1659.3 L1980.2 1655.2 L1984.4 1662.1 L1997 1663.5 L2005.3 1666.3 L2003.9 1674.7 L2009.5 1678.1 L2019.3 1669.1 L2027.7 1662.1 L2031.9 1652.4 L2038.9 1645.4 L2044.5 1639.8 L2051.5 1634.2 L2061.2 1637 L2072.4 1632.8 L2080.8 1631.4 L2089.2 1632.8 L2092 1638.4 L2104.6 1641.2 L2106 1645.4 L2100.4 1646.8 L2110.2 1658 L2114.9 1652.4 L2117.1 1642.6 L2119.9 1637.8 L2129.7 1638.4 L2132.5 1648.2 L2135.3 1652.4 L2143.7 1646.8 L2145.1 1653.8 L2139.5 1658 L2138.9 1664.9 L2147.9 1667.7 L2152.9 1674.7 L2145.1 1681.7 L2143.7 1688.7 L2136.7 1690.1 L2140.9 1695.7 L2138.1 1703.2 L2128.3 1704.1 L2119.9 1709.7 L2110.2 1718 L2103.2 1713.9 L2095.3 1706 L2087.8 1711.1 L2082.2 1715.2 L2079.4 1722.2 L2083.6 1729.2 L2078 1731.2 L2066.8 1729.2 L2054.3 1727.8 L2050.1 1736.2 L2038.9 1732 L2036.1 1737.6 L2026.3 1741.8 L2027.7 1753 L2033.3 1760 L2036.1 1769.8 L2034.7 1776.7 L2031.9 1780.9 L2043.1 1786.5 L2041.7 1792.1 L2048.7 1790.7 L2046.7 1800.5 L2033.3 1796.3 L2022.1 1791.6 L2015.1 1792.7 L2008.7 1797.7 L2013.2 1806.1 L1998.4 1807.5 L1991.4 1818.7 L1994.2 1822.9 L1990 1828.4 L1992.8 1835.4 L1987.2 1842.4 L1980.2 1856.4 L1971.8 1870.4 L1964.8 1873.2 L1964 1883 L1969 1886.6 L1980.2 1886.6 L1990 1887.7 L2005.3 1883.8 L2016.5 1881.6 L2027.7 1881 L2036.1 1881.6 L2044.5 1892.7 L2050.1 1889.9 L2059.8 1890.5 L2073.8 1897.8 L2073 1906.7 L2075.2 1912.3 L2083.6 1916.5 L2082.2 1923.5 L2069.6 1922.1 L2066.3 1929.1 L2054.3 1931.3 L2052.9 1937.5 L2047.8 1940.8 L2055.7 1943 L2061.2 1938.9 L2068.2 1940.2 L2069.1 1945.8 L2080.8 1948.6 L2087 1951.4 L2080.8 1958.4 L2078 1969.6"/>
<path d="M2191.2 1629.4 L2191.2 1639.8 L2178.6 1641.2 L2175.8 1635.6 L2167.5 1639.8 L2159.1 1645.4 L2150.7 1642.6 L2143.7 1646.8"/>
<path d="M2580 1857.8 L2569.9 1867.6 L2558.8 1875.4 L2544.8 1884.9 L2530.8 1894.1 L2521 1900.6 L2508.4 1906.7 L2494.5 1912.3 L2483.3 1917.9 L2469.3 1922.9 L2455.3 1930.5 L2444.2 1936.1 L2435.8 1937.5 L2427.4 1936.1 L2416.2 1936.9 L2405 1931.9 L2391.1 1928.5 L2377.1 1927.7 L2363.1 1929.6 L2351.9 1934.1 L2340.7 1941.6 L2333.8 1951.4 L2331 1962.6 L2335.2 1968.2 L2341.3 1975.2 L2332.4 1978 L2318.4 1976.6 L2304.4 1976 L2293.2 1971 L2282 1966.8 L2270.9 1964.8 L2256.9 1966 L2247.1 1970.4 L2242.9 1978 L2240.1 1985 L2233.1 1990"/>
<path d="M1885.2 1990 L1890.7 1980.8 L1901.9 1978 L1920.1 1978 L1932.7 1976.6 L1942.5 1969.6 L1955 1972.4 L1971.8 1976.6 L1994.2 1980.8 L2016.5 1981.6 L2033.3 1983.6 L2050.1 1986.4 L2044.5 1982.7 L2045.9 1975.2 L2055.7 1971 L2078 1969.6"/>
<path d="M2805 1650.1 L2798 1656.6 L2793 1663.5 L2788.2 1671.4 L2781.2 1677.5 L2775.7 1684.5 L2770.1 1692.9 L2763.1 1698.5 L2754.7 1708.3 L2747.7 1716.6 L2746.3 1719.4 L2739.3 1725 L2732.3 1730.6 L2725.3 1738.4 L2717 1747.4 L2709.1 1754.4 L2703 1762.8 L2698.8 1767 L2690.4 1770.6 L2684.8 1776.7 L2679.2 1782.3 L2673.6 1785.1 L2666.6 1790.7 L2659.7 1793.5 L2652.7 1796.3 L2648.5 1801.9 L2647.1 1807.5 L2642.9 1813.1 L2635.9 1817.8 L2627.5 1822.9 L2621.9 1829.8 L2613.5 1835.4 L2605.2 1839.6 L2598.2 1843.8 L2591.2 1850.8 L2584.2 1856.4 L2580 1859.2"/>
<path d="M1423.6 1945.8 L1424 1951.4 L1422.2 1956.1 L1418.4 1958 L1413.8 1957 L1410.1 1959.8 L1409.1 1964.5 L1406.3 1968.2 L1403.5 1972.9 L1401.2 1975.7 L1404.5 1978.4 L1408.2 1979.4 L1406.8 1984 L1405.9 1988.7 L1402.6 1991.5 L1404 1995.2 L1408.2 1998 L1409.6 2004.5 L1410.5 2010.1 L1413.3 2014.8 L1417.5 2018.5 L1422.2 2021.8 L1425.9 2022.2 L1422.2 2017.6 L1420.8 2013.9 L1422.2 2008.3 L1422.2 2003.6 L1419.4 1998.9 L1416.6 1997.1 L1416.1 1992.4 L1418.4 1988.7 L1423.1 1985.9 L1430.6 1983.6 L1439.9 1981.7 L1449.2 1981.2 L1456.6 1982.2 L1463.2 1985 L1467.8 1989.6 L1472 1993.4 L1468.8 1996.1 L1466.4 1998.9 L1468.8 2003.6 L1470.6 2006.4 L1467.8 2010.1 L1465.5 2013.9 L1466 2018.5 L1465 2022.2 L1466.9 2026 L1471.6 2025.5 L1477.1 2022.7 L1484.6 2021.8 L1490.2 2020.4 L1495.8 2020.8 L1501.4 2024.6 L1504.6 2028.8 L1505.1 2031.6 L1510.7 2032 L1516.3 2033.4 L1522.8 2029.7 L1527.5 2032.5 L1532.1 2038.1 L1535.8 2044.6 L1536.8 2050"/>
<path d="M1537.1 2049.4 L1532.3 2055 L1525.3 2062 L1533.7 2059.2 L1542.1 2059.2 L1547.7 2064.8 L1554.7 2067.6 L1561.7 2074.6 L1570.1 2081.6 L1575.7 2084.4 L1581.2 2081.6 L1592.4 2080.7 L1600.8 2081.6 L1609.2 2087.2 L1616.2 2091.4 L1624.6 2088 L1623.2 2083 L1628.8 2076 L1637.1 2071.8 L1645.5 2069 L1646.9 2065.7 L1655.3 2060.6 L1665.1 2055 L1670.7 2048 L1679.1 2039.7 L1690.2 2035.5 L1701.4 2034.1 L1715.4 2036 L1725.2 2038.8 L1726.6 2033.2 L1724.3 2028.5 L1730.8 2024.3 L1740.6 2022.9 L1751.7 2024.8 L1762.9 2027.6 L1774.1 2033.2 L1782.5 2034.1 L1793.7 2029.9 L1799.3 2024.3 L1810.4 2021.5 L1821.6 2024.8 L1832.8 2027.1 L1844 2025.7 L1855.2 2022 L1862.1 2015.9 L1859.3 2010.3 L1863.5 2004.7 L1871.9 2001.4 L1883.1 2000.5 L1890.9 1996.9 L1885.3 1992.1"/>
<path d="M2078 1969.1 L2087.3 1971.4 L2105.9 1974.7 L2124.5 1977.5 L2139.4 1979.9 L2150.6 1980.7 L2161.8 1985 L2173 1985 L2180.4 1990.6 L2186 1994.3 L2193.5 1995.6 L2200.9 1998.6 L2204.7 1995.2 L2212.1 1997.1 L2221.4 1998.9 L2230.7 2001.7 L2236.3 1998.9 L2230.7 1995.2 L2231.7 1990.6 L2236.3 1985.9"/>
<path d="M1352 1832 L1358 1826.5 L1364 1828 L1367 1833 L1366 1838 L1361 1837 L1357 1840 L1358 1846 L1364 1849 L1372 1851 L1377 1855"/>
<path d="M1356 1834 L1361 1831 L1364 1835 L1360 1841 L1363 1846 L1369 1848"/>
</g>
<g fill="#000">
<circle cx="1372.8" cy="1887" r="3.2"/>
<circle cx="1408.9" cy="1942.1" r="3.2"/>
<circle cx="1541.5" cy="2069.6" r="2.6"/>
</g>
<defs><linearGradient id="vg" x1="0" y1="1" x2="0" y2="0">
<stop offset="0" stop-color="#440154"/>
<stop offset="0.05" stop-color="#451860"/>
<stop offset="0.1" stop-color="#46286d"/>
<stop offset="0.15" stop-color="#44367a"/>
<stop offset="0.2" stop-color="#414487"/>
<stop offset="0.25" stop-color="#3f5189"/>
<stop offset="0.3" stop-color="#3b5e8b"/>
<stop offset="0.35" stop-color="#346b8c"/>
<stop offset="0.4" stop-color="#2a788e"/>
<stop offset="0.45" stop-color="#2c848c"/>
<stop offset="0.5" stop-color="#2b9089"/>
<stop offset="0.55" stop-color="#289c87"/>
<stop offset="0.6" stop-color="#22a884"/>
<stop offset="0.65" stop-color="#44b279"/>
<stop offset="0.7" stop-color="#5abc6d"/>
<stop offset="0.75" stop-color="#6bc760"/>
<stop offset="0.8" stop-color="#7ad151"/>
<stop offset="0.85" stop-color="#9fd749"/>
<stop offset="0.9" stop-color="#c0dd40"/>
<stop offset="0.95" stop-color="#dfe234"/>
<stop offset="1" stop-color="#fde725"/>
</linearGradient></defs>
<rect x="3474" y="983.2" width="96" height="478.2" fill="url(#vg)"/>
<g stroke="#fff" stroke-width="2.2">
<line x1="3474" y1="1461.4" x2="3493.2" y2="1461.4"/>
<line x1="3550.8" y1="1461.4" x2="3570" y2="1461.4"/>
<line x1="3474" y1="1341.85" x2="3493.2" y2="1341.85"/>
<line x1="3550.8" y1="1341.85" x2="3570" y2="1341.85"/>
<line x1="3474" y1="1222.3" x2="3493.2" y2="1222.3"/>
<line x1="3550.8" y1="1222.3" x2="3570" y2="1222.3"/>
<line x1="3474" y1="1102.75" x2="3493.2" y2="1102.75"/>
<line x1="3550.8" y1="1102.75" x2="3570" y2="1102.75"/>
<line x1="3474" y1="983.2" x2="3493.2" y2="983.2"/>
<line x1="3550.8" y1="983.2" x2="3570" y2="983.2"/>
</g>
<g font-size="53.33" fill="#000">
<text x="3604.1" y="1480">0.00</text>
<text x="3604.1" y="1360.45">0.25</text>
<text x="3604.1" y="1240.9">0.50</text>
<text x="3604.1" y="1121.35">0.75</text>
<text x="3604.1" y="1001.8">1.00</text>
</g>
<text x="3473.5" y="941.7" font-size="66.67" fill="#000">Mean P(estab.)</text>
<text x="1059.2" y="88.5" font-size="80" fill="#000">Probit (predictive SD): site-mean establishment probability</text>
<g font-size="53.33" fill="#4d4d4d" text-anchor="end">
<text x="1030.4" y="253.2">22°S</text>
<text x="1030.4" y="542.568">24°S</text>
<text x="1030.4" y="831.936">26°S</text>
<text x="1030.4" y="1121.3">28°S</text>
<text x="1030.4" y="1410.67">30°S</text>
<text x="1030.4" y="1700.04">32°S</text>
<text x="1030.4" y="1989.41">34°S</text>
</g>
<g font-size="53.33" fill="#4d4d4d" text-anchor="middle">
<text x="1614.83" y="2276.3">20°E</text>
<text x="2250.58" y="2276.3">25°E</text>
<text x="2886.33" y="2276.3">30°E</text>
</g>
<text x="2216.5" y="2353.7" font-size="66.67" fill="#000" text-anchor="middle">Longitude</text>
<text transform="translate(884.9 1174.2) rotate(-90)" font-size="66.67" fill="#000" text-anchor="middle">Latitude</text>
</svg></body></html>
